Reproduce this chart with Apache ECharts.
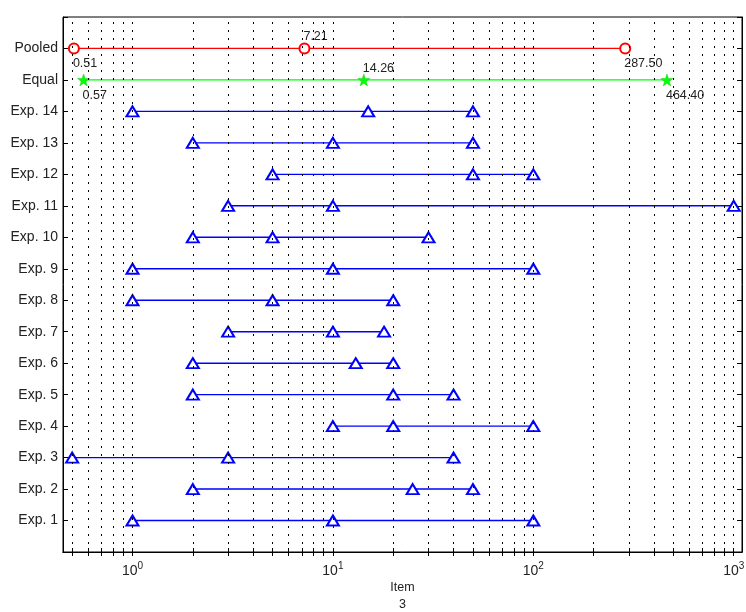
<!DOCTYPE html>
<html>
<head>
<meta charset="utf-8">
<script src="https://cdn.jsdelivr.net/npm/echarts@6/dist/echarts.min.js"></script>
<style>
  html, body { margin: 0; padding: 0; background: #fff; }
  #chart { width: 746px; height: 612px; }
</style>
</head>
<body>
<div id="chart"></div>
<script>
// 行名称（从下往上）
var rowNames = ['Exp. 1', 'Exp. 2', 'Exp. 3', 'Exp. 4', 'Exp. 5', 'Exp. 6', 'Exp. 7',
    'Exp. 8', 'Exp. 9', 'Exp. 10', 'Exp. 11', 'Exp. 12', 'Exp. 13', 'Exp. 14', 'Equal', 'Pooled'];
// 各实验的最小值 / 中间值 / 最大值
var expLow = [1, 2, 0.5, 10, 2, 2, 3, 1, 1, 2, 3, 5, 2, 1];
var expMid = [10, 25, 3, 20, 20, 13, 10, 5, 10, 5, 10, 50, 10, 15];
var expHigh = [100, 50, 40, 100, 40, 20, 18, 20, 100, 30, 1000, 100, 50, 50];
// 汇总结果
var equalVals = [0.57, 14.26, 464.40];
var pooledVals = [0.51, 7.21, 287.50];
// 坐标轴刻度
var xMajorTicks = [1, 10, 100, 1000];
var xGridTicks = [0.5, 0.6, 0.7, 0.8, 0.9, 1, 2, 3, 4, 5, 6, 7, 8, 9, 10,
    20, 30, 40, 50, 60, 70, 80, 90, 100, 200, 300, 400, 500, 600, 700, 800, 900, 1000];

var myChart = echarts.init(document.getElementById('chart'));
var font = 'Liberation Sans, Arial, sans-serif';
var starPath = 'path://M0,-10L2.35,-3.24L9.51,-3.09L3.8,1.24L5.88,8.09L0,4L-5.88,8.09L-3.8,1.24L-9.51,-3.09L-2.35,-3.24Z';

function labelOf(i, n) {
    // 中间值标在上方，两端标在下方
    return {
        show: true,
        position: i === 1 ? 'top' : 'bottom',
        align: 'left',
        distance: i === 1 ? -1 : 3,
        offset: [-1, 0],
        color: '#222',
        fontSize: 12.5,
        fontFamily: font,
        formatter: function () { return n.toFixed(2); }
    };
}

var series = [];
for (var k = 0; k < expLow.length; k++) {
    series.push({
        name: rowNames[k],
        type: 'line',
        data: [[expLow[k], k + 1], [expMid[k], k + 1], [expHigh[k], k + 1]],
        symbol: 'emptyTriangle',
        symbolSize: [12, 10],
        lineStyle: { color: '#0000ff', width: 1.4 },
        itemStyle: { color: '#0000ff', borderColor: '#0000ff', borderWidth: 1.7 },
        z: 3,
        animation: false
    });
}
series.push({
    name: 'Equal',
    type: 'line',
    data: equalVals.map(function (v, i) {
        return { value: [v, 15], label: labelOf(i, v) };
    }),
    symbol: starPath,
    symbolSize: 12,
    lineStyle: { color: '#00ff00', width: 1.3 },
    itemStyle: { color: '#00ff00', borderColor: '#22cc22', borderWidth: 0.5 },
    z: 3,
    animation: false
});
series.push({
    name: 'Pooled',
    type: 'line',
    data: pooledVals.map(function (v, i) {
        return { value: [v, 16], label: labelOf(i, v) };
    }),
    symbol: 'emptyCircle',
    symbolSize: 10,
    lineStyle: { color: '#ff0000', width: 1.3 },
    itemStyle: { color: '#ff0000', borderColor: '#ff0000', borderWidth: 1.6 },
    z: 3,
    animation: false
});
// 点状网格线
series.push({
    name: 'grid',
    type: 'line',
    data: [],
    silent: true,
    z: 1,
    markLine: {
        silent: true,
        symbol: 'none',
        label: { show: false },
        animation: false,
        lineStyle: { color: '#000', width: 1, type: [2, 6] },
        data: xGridTicks.map(function (v) { return { xAxis: v }; })
    }
});

var xBase = {
    type: 'log',
    logBase: 10,
    min: 0.45,
    max: 1100,
    axisLine: { show: true, lineStyle: { color: '#000', width: 1 } },
    axisTick: { show: true, inside: true, length: 4, customValues: xGridTicks, lineStyle: { color: '#000' } },
    minorTick: { show: false },
    splitLine: { show: false }
};

var option = {
    animation: false,
    grid: {
        left: 63, right: 4, top: 17, bottom: 60,
        outerBoundsMode: 'none',
        containLabel: false,
        show: true, borderColor: '#000', borderWidth: 1, backgroundColor: '#fff'
    },
    xAxis: [
        echarts.util.merge({
            position: 'bottom',
            name: 'Item\n3',
            nameLocation: 'middle',
            nameGap: 27,
            nameMoveOverlap: false,
            nameTextStyle: { color: '#222', fontSize: 12.5, fontFamily: font, lineHeight: 17 },
            axisLabel: {
                show: true,
                customValues: xMajorTicks,
                margin: 9,
                formatter: function (v) {
                    var e = Math.round(Math.log(v) / Math.LN10);
                    return '{b|10}{s|' + e + '}';
                },
                rich: {
                    b: { fontSize: 14, color: '#222', fontFamily: font },
                    s: { fontSize: 10, color: '#222', fontFamily: font, padding: [0, 0, 10, 0] }
                }
            }
        }, xBase, true),
        echarts.util.merge({
            position: 'top',
            axisLabel: { show: false }
        }, xBase, true)
    ],
    yAxis: [
        {
            type: 'value',
            position: 'left',
            min: 0,
            max: 17,
            interval: 1,
            axisLine: { show: true, lineStyle: { color: '#000', width: 1 } },
            axisTick: { show: true, inside: true, length: 5, lineStyle: { color: '#000' } },
            splitLine: { show: false },
            axisLabel: {
                color: '#222',
                fontSize: 14,
                fontFamily: font,
                margin: 5,
                formatter: function (v) {
                    return (v >= 1 && v <= 16) ? rowNames[v - 1] : '';
                }
            }
        },
        {
            type: 'value',
            position: 'right',
            min: 0,
            max: 17,
            interval: 1,
            axisLine: { show: true, lineStyle: { color: '#000', width: 1 } },
            axisTick: { show: true, inside: true, length: 5, lineStyle: { color: '#000' } },
            splitLine: { show: false },
            axisLabel: { show: false }
        }
    ],
    series: series
};

myChart.setOption(option);
</script>
</body>
</html>
